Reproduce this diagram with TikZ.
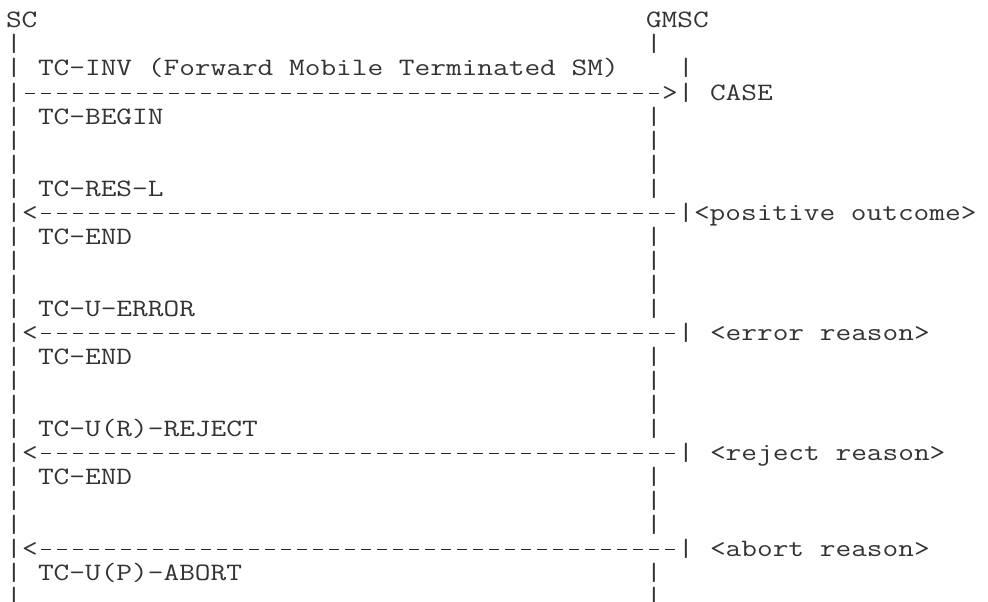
\documentclass[tikz,border=0pt]{standalone}
\usepackage{graphicx}
\newcommand\hstr[1]{\scalebox{1.2190}[1]{#1}}
\tikzset{
  ch/.style={anchor=base west, inner sep=0pt, outer sep=0pt, text=black!80,
    font=\ttfamily\fontsize{25}{25}\selectfont},
  dashrow/.style={draw=black!85, line width=1.3pt, dash pattern=on 10.5pt off 5.5pt},
}
% text cell: name, row, column, text
\newcommand\cell[4]{\node[ch] (#1) at ({6+#3*16},{28+(#2-1)*24}) {\hstr{#4}};}
% dashed run of characters: name, row, first column, number of columns
\newcommand\dashrun[4]{%
  \coordinate (#1s) at ({6+#3*16+2.75},{28+(#2-1)*24-6.5});%
  \coordinate (#1e) at ({6+(#3+#4)*16-2.75},{28+(#2-1)*24-6.5});%
  \draw[dashrow] (#1s) -- (#1e);}
\begin{document}
\begin{tikzpicture}[x=1pt,y=-1pt]
\fill[white] (0,0) rectangle (988,602);
\useasboundingbox (0,0) rectangle (988,602);
% row 1
\cell{sc}{1}{0}{SC}
\cell{gmsc}{1}{40}{GMSC}
% row 2
\cell{a2}{2}{0}{|} \cell{b2}{2}{40}{|}
% row 3
\cell{a3}{3}{0}{|} \cell{inv}{3}{2}{TC-INV (Forward Mobile Terminated SM)} \cell{b3}{3}{42}{|}
% row 4
\cell{a4}{4}{0}{|} \dashrun{d4}{4}{1}{40} \cell{h4}{4}{41}{>} \cell{b4}{4}{42}{|} \cell{case}{4}{44}{CASE}
% row 5
\cell{a5}{5}{0}{|} \cell{begin}{5}{2}{TC-BEGIN} \cell{b5}{5}{40}{|}
% rows 6-7
\cell{a6}{6}{0}{|} \cell{b6}{6}{40}{|}
\cell{a7}{7}{0}{|} \cell{b7}{7}{40}{|}
% row 8
\cell{a8}{8}{0}{|} \cell{resl}{8}{2}{TC-RES-L} \cell{b8}{8}{40}{|}
% row 9
\cell{a9}{9}{0}{|} \cell{h9}{9}{1}{<} \dashrun{d9}{9}{2}{40} \cell{b9}{9}{42}{|} \cell{pos}{9}{43}{<positive outcome>}
% row 10
\cell{a10}{10}{0}{|} \cell{end1}{10}{2}{TC-END} \cell{b10}{10}{40}{|}
% rows 11-12
\cell{a11}{11}{0}{|} \cell{b11}{11}{40}{|}
\cell{a12}{12}{0}{|} \cell{b12}{12}{40}{|}
% row 13
\cell{a13}{13}{0}{|} \cell{uerr}{13}{2}{TC-U-ERROR} \cell{b13}{13}{40}{|}
% row 14
\cell{a14}{14}{0}{|} \cell{h14}{14}{1}{<} \dashrun{d14}{14}{2}{40} \cell{b14}{14}{42}{|} \cell{err}{14}{44}{<error reason>}
% row 15
\cell{a15}{15}{0}{|} \cell{end2}{15}{2}{TC-END} \cell{b15}{15}{40}{|}
% rows 16-17
\cell{a16}{16}{0}{|} \cell{b16}{16}{40}{|}
\cell{a17}{17}{0}{|} \cell{b17}{17}{40}{|}
% row 18
\cell{a18}{18}{0}{|} \cell{urrej}{18}{2}{TC-U(R)-REJECT} \cell{b18}{18}{40}{|}
% row 19
\cell{a19}{19}{0}{|} \cell{h19}{19}{1}{<} \dashrun{d19}{19}{2}{40} \cell{b19}{19}{42}{|} \cell{rej}{19}{44}{<reject reason>}
% row 20
\cell{a20}{20}{0}{|} \cell{end3}{20}{2}{TC-END} \cell{b20}{20}{40}{|}
% rows 21-22
\cell{a21}{21}{0}{|} \cell{b21}{21}{40}{|}
\cell{a22}{22}{0}{|} \cell{b22}{22}{40}{|}
% row 23
\cell{a23}{23}{0}{|} \cell{h23}{23}{1}{<} \dashrun{d23}{23}{2}{40} \cell{b23}{23}{42}{|} \cell{abr}{23}{44}{<abort reason>}
% row 24
\cell{a24}{24}{0}{|} \cell{upab}{24}{2}{TC-U(P)-ABORT} \cell{b24}{24}{40}{|}
% row 25
\cell{a25}{25}{0}{|} \cell{b25}{25}{40}{|}
\end{tikzpicture}
\end{document}
